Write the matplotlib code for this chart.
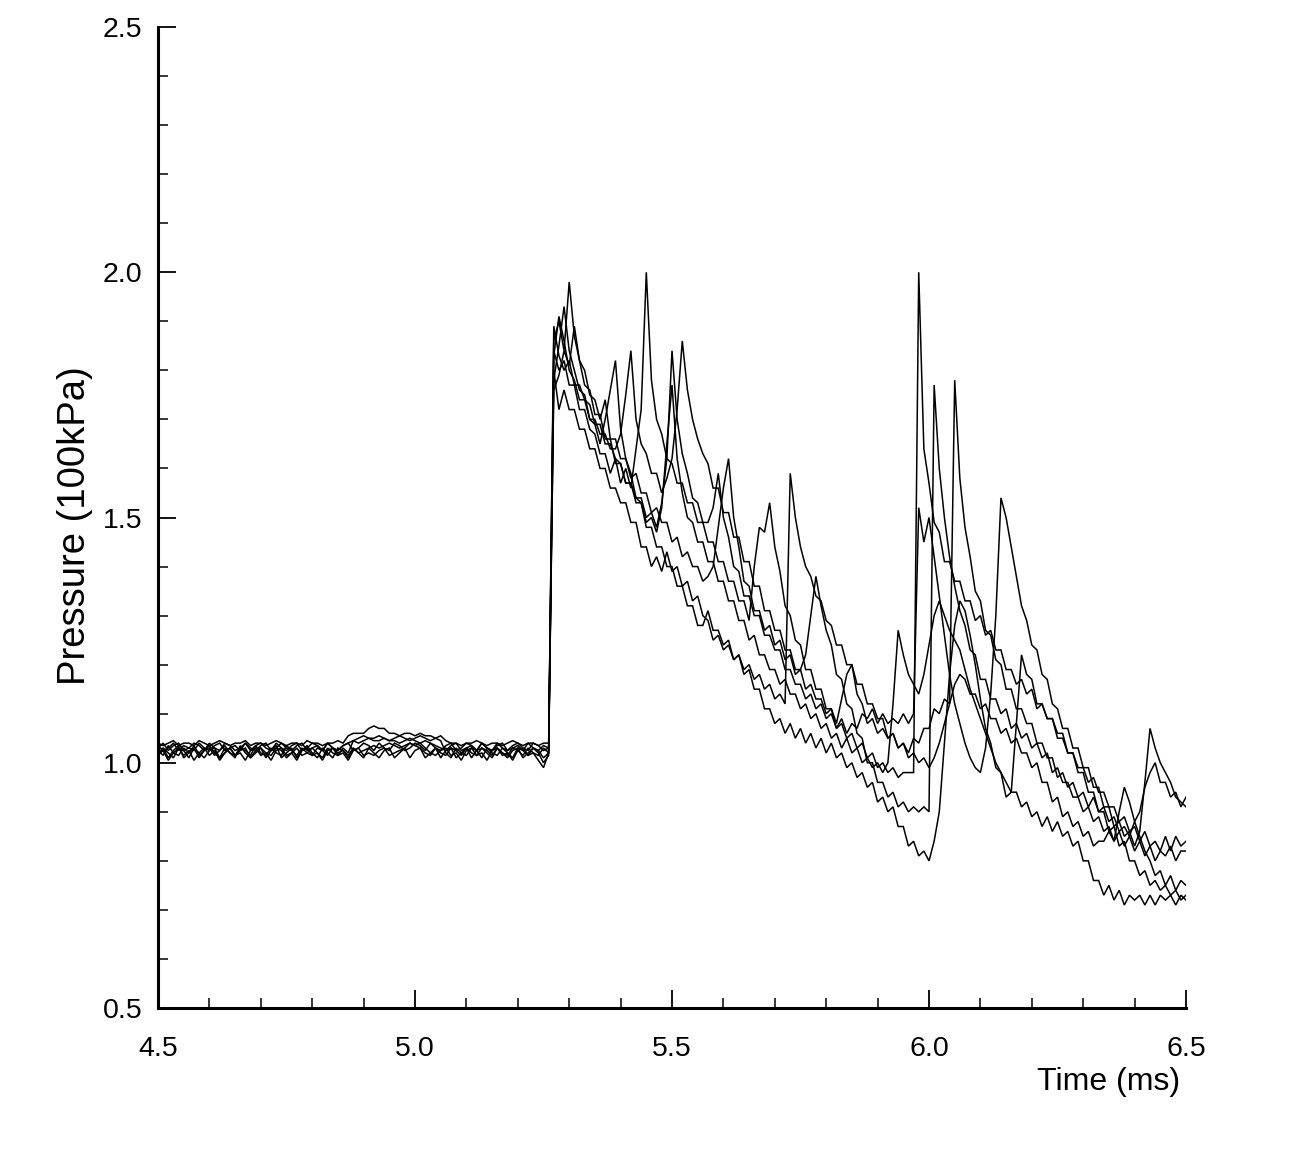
import numpy as np
import matplotlib
matplotlib.use("Agg")
import matplotlib.pyplot as plt
from matplotlib.ticker import MultipleLocator

plt.rcParams['font.family'] = ['Liberation Sans', 'DejaVu Sans']

# ---- data: pressure in kPa, sampled every 0.01 ms from 4.50 to 6.50 ms ----
t_start, t_end, n_samples = 4.50, 6.50, 201

# baseline part (4.50 .. 5.26 ms), 77 samples per gauge
base_1 = [104, 103.5, 104, 104.5, 103.5, 104, 104, 103.5, 104.5, 104, 103.5,
          104, 104.5, 104, 103.5, 104, 104, 104.5, 103.5, 104, 104, 103.5,
          104, 104.5, 104, 103.5, 104, 104, 103.5, 104.5, 104, 104, 103.5,
          104, 104, 104.5, 104, 105.5, 106, 106, 106, 107, 107.5, 107,
          107, 106, 106, 105.5, 106, 106, 105.5, 106, 105.5, 105.5, 105,
          105.5, 104.5, 104, 104, 103.5, 104, 104, 104.5, 104, 103.5, 104,
          104, 103.5, 104, 104.5, 104, 103.5, 104, 104, 103.5, 104, 104]
base_2 = [101.5, 103, 102, 101, 103, 102.5, 101, 103, 102, 101, 102.5,
          103, 101, 102, 103, 101.5, 102.5, 103, 101, 102, 103, 102,
          101.5, 103, 102.5, 101, 102, 103, 101.5, 102, 103, 102, 101,
          103, 102, 101.5, 103, 102, 104.5, 105, 105.5, 105, 105, 105.5,
          105, 104.5, 105, 105.5, 105, 104.5, 105, 105.5, 105, 104.5, 105,
          104.5, 102, 101, 103, 102, 101.5, 103, 102.5, 101, 103, 102,
          101.5, 103, 102, 101, 103, 102.5, 101.5, 103, 102, 100, 101.5]
base_3 = [102.5, 101.5, 103.5, 102, 101.5, 103, 102, 103.5, 101.5, 102.5, 103,
          101.5, 102.5, 103.5, 102, 101.5, 103, 102.5, 101.5, 103.5, 102, 101.5,
          103, 102, 101.5, 103.5, 102.5, 101.5, 103, 102, 101.5, 103, 102.5,
          101.5, 103, 102, 102.5, 101.5, 103, 102, 102.5, 103, 103.5, 103,
          103.5, 104, 103.5, 103, 103.5, 104, 103.5, 103, 102, 101.5, 103,
          102, 101.5, 103, 102.5, 101.5, 103, 102, 101.5, 103, 102.5, 101.5,
          103, 102, 101.5, 103, 102.5, 101.5, 103, 102, 101.5, 103, 102]
base_4 = [103.5, 102.5, 103, 104, 102.5, 103.5, 103, 102.5, 104, 103, 102.5,
          103.5, 104, 102.5, 103, 103.5, 102.5, 104, 103, 102.5, 103.5, 104,
          102.5, 103, 104, 103, 102.5, 103.5, 104, 102.5, 103, 103.5, 102.5,
          104, 103, 102.5, 103.5, 104, 104.5, 104, 104.5, 105, 104.5, 104.5,
          105, 104.5, 104.5, 104, 104.5, 105, 104.5, 104, 104.5, 104, 103.5,
          103, 102.5, 103.5, 104, 102.5, 103, 103.5, 102.5, 104, 103, 102.5,
          103.5, 104, 102.5, 103, 103.5, 102.5, 104, 103, 102.5, 103.5, 103]
base_5 = [102, 103, 101, 102.5, 103.5, 101, 102, 103, 101, 102.5, 103.5,
          102, 101, 103, 102, 101, 103.5, 102, 101, 102.5, 103, 101,
          102.5, 103.5, 101, 102, 103, 101, 102.5, 103.5, 102, 101, 103,
          102, 101, 103, 102.5, 101, 103, 102, 101, 103, 102, 101,
          102.5, 103, 101, 102, 103, 101, 102.5, 103, 101, 102, 103,
          101, 102.5, 103, 101, 102, 103, 101, 102.5, 103, 102, 101,
          103, 102, 101, 102.5, 103, 101, 102, 103, 102.5, 101, 102]
base_6 = [103, 104, 102.5, 103.5, 104, 102.5, 103, 104, 103.5, 102.5, 104,
          103, 102.5, 104, 103.5, 102.5, 103, 104, 102.5, 103.5, 104, 103,
          102.5, 104, 103, 102.5, 103.5, 104, 102.5, 103, 104, 103.5, 102.5,
          104, 103, 102.5, 103.5, 104, 102.5, 103, 104, 103.5, 102.5, 104,
          103, 102.5, 104, 103.5, 102.5, 103, 104, 103.5, 102.5, 104, 103,
          102.5, 103.5, 104, 102.5, 103, 104, 103.5, 102.5, 104, 103, 102.5,
          104, 103, 102.5, 103.5, 104, 103, 102.5, 104, 103.5, 102.5, 103]
base_7 = [101.5, 102.5, 100.5, 102, 103, 101.5, 102.5, 100.5, 102, 103, 101.5,
          102.5, 100.5, 102, 103, 101.5, 102, 100.5, 102.5, 103, 101.5, 102,
          100.5, 102.5, 103, 101.5, 102, 100.5, 102.5, 103, 101.5, 102, 100.5,
          102.5, 103, 101.5, 102, 100.5, 102.5, 103, 101.5, 102, 101.5, 102.5,
          103, 101.5, 102, 102.5, 103, 104, 103.5, 104, 103, 102, 101.5,
          102.5, 103, 101.5, 102, 100.5, 102.5, 103, 101.5, 102, 100.5, 102.5,
          103, 101.5, 102, 100.5, 102.5, 103, 101.5, 102, 100.5, 99, 102]

# post-shock part (5.27 .. 6.50 ms), 124 samples per gauge
post_1 = [186, 190, 184, 198, 187, 182, 180, 175, 174, 170,
          174, 166, 166, 162, 162, 158, 159, 155, 155, 151,
          152, 149, 149, 145, 146, 142, 143, 140, 140, 137,
          138, 140, 148, 156, 162, 150, 144, 137, 136, 131,
          131, 127, 128, 124, 125, 121, 122, 118, 119, 115,
          116, 113, 113, 110, 111, 107, 108, 105, 106, 103,
          104, 101, 102, 99, 100, 98, 99, 97, 98, 98,
          98, 200, 164, 157, 149, 147, 141, 141, 137, 137,
          133, 133, 129, 130, 126, 127, 123, 123, 119, 119,
          116, 117, 114, 115, 111, 112, 109, 109, 105, 105,
          102, 102, 99, 99, 96, 97, 94, 94, 91, 91,
          88, 89, 86, 87, 84, 86, 83, 84, 82, 85,
          82, 85, 83, 84]
post_2 = [184, 180, 182, 177, 177, 172, 172, 168, 167, 163,
          163, 159, 162, 157, 160, 156, 164, 172, 200, 178,
          170, 167, 162, 161, 157, 157, 153, 153, 149, 149,
          145, 145, 141, 141, 137, 137, 133, 133, 129, 140,
          148, 147, 153, 144, 139, 132, 130, 125, 124, 119,
          119, 115, 115, 111, 111, 108, 113, 118, 120, 114,
          112, 108, 109, 106, 107, 105, 106, 103, 104, 102,
          105, 104, 107, 107, 111, 110, 113, 112, 178, 158,
          148, 142, 135, 133, 127, 126, 121, 120, 115, 115,
          111, 111, 108, 108, 104, 104, 101, 101, 97, 98,
          95, 96, 93, 94, 91, 93, 90, 91, 88, 89,
          86, 87, 85, 88, 90, 95, 98, 100, 96, 96,
          93, 94, 91, 93]
post_3 = [180, 172, 176, 172, 172, 168, 168, 164, 164, 160,
          160, 156, 156, 153, 153, 149, 149, 144, 144, 140,
          142, 139, 143, 139, 140, 136, 137, 133, 134, 130,
          129, 125, 126, 123, 124, 121, 122, 118, 119, 115,
          115, 111, 111, 108, 109, 106, 108, 105, 107, 104,
          106, 103, 105, 102, 104, 101, 102, 99, 100, 97,
          98, 95, 96, 92, 93, 90, 91, 87, 87, 83,
          84, 81, 82, 80, 84, 90, 104, 118, 128, 133,
          131, 126, 120, 113, 107, 104, 99, 98, 93, 94,
          108, 122, 118, 117, 112, 112, 109, 109, 106, 106,
          102, 102, 98, 98, 94, 94, 90, 90, 86, 87,
          83, 84, 80, 80, 77, 78, 75, 76, 74, 75,
          73, 74, 72, 73]
post_4 = [189, 183, 180, 182, 177, 177, 174, 173, 169, 169,
          165, 165, 162, 161, 157, 157, 154, 154, 150, 151,
          148, 153, 162, 184, 170, 163, 159, 154, 153, 149,
          149, 152, 159, 150, 146, 140, 139, 134, 134, 130,
          130, 126, 126, 123, 123, 119, 119, 116, 116, 113,
          114, 111, 112, 109, 110, 107, 109, 106, 108, 107,
          110, 109, 111, 108, 110, 108, 109, 108, 110, 108,
          110, 152, 145, 150, 142, 134, 126, 118, 112, 108,
          104, 101, 99, 98, 103, 114, 130, 154, 150, 144,
          138, 132, 129, 124, 123, 118, 117, 112, 111, 107,
          107, 103, 103, 99, 99, 95, 95, 91, 91, 87,
          88, 85, 86, 83, 86, 96, 107, 103, 100, 98,
          96, 93, 92, 91]
post_5 = [178, 185, 193, 184, 180, 176, 175, 170, 169, 165,
          170, 176, 182, 168, 162, 159, 154, 153, 148, 148,
          144, 144, 140, 140, 136, 136, 132, 132, 128, 128,
          131, 127, 127, 124, 125, 121, 122, 119, 120, 117,
          118, 115, 116, 113, 114, 112, 159, 150, 144, 140,
          138, 134, 133, 129, 128, 124, 124, 120, 120, 116,
          116, 112, 112, 109, 109, 105, 106, 103, 104, 101,
          102, 100, 101, 99, 101, 104, 108, 112, 116, 118,
          117, 114, 114, 111, 112, 109, 109, 106, 107, 104,
          105, 102, 102, 99, 100, 96, 96, 92, 93, 89,
          90, 87, 88, 85, 86, 83, 84, 84, 86, 84,
          90, 95, 92, 88, 85, 82, 80, 77, 78, 75,
          77, 74, 76, 75]
post_6 = [183, 191, 186, 180, 178, 174, 174, 170, 170, 167,
          167, 164, 164, 167, 175, 184, 170, 165, 163, 159,
          159, 155, 158, 162, 172, 186, 176, 170, 166, 163,
          161, 156, 156, 151, 151, 146, 146, 141, 141, 136,
          136, 131, 131, 127, 127, 123, 123, 119, 119, 122,
          130, 138, 132, 127, 124, 118, 117, 112, 111, 106,
          105, 100, 100, 96, 96, 93, 94, 91, 92, 90,
          91, 90, 91, 90, 177, 160, 150, 142, 136, 131,
          128, 123, 122, 117, 117, 113, 113, 110, 111, 107,
          108, 105, 106, 103, 104, 101, 102, 98, 99, 96,
          96, 93, 93, 90, 91, 88, 89, 86, 87, 84,
          86, 83, 85, 82, 84, 81, 83, 80, 82, 81,
          83, 80, 82, 82]
post_7 = [176, 179, 184, 181, 189, 182, 177, 176, 171, 171,
          166, 166, 161, 161, 157, 157, 153, 153, 149, 150,
          147, 152, 165, 177, 162, 155, 150, 149, 145, 145,
          141, 141, 137, 137, 133, 133, 129, 129, 125, 126,
          122, 122, 119, 119, 116, 117, 114, 114, 111, 112,
          109, 110, 107, 108, 105, 106, 103, 105, 102, 103,
          100, 101, 99, 100, 98, 100, 112, 127, 122, 118,
          116, 114, 118, 124, 130, 133, 130, 127, 125, 123,
          119, 115, 112, 109, 106, 103, 100, 98, 96, 94,
          94, 91, 92, 89, 90, 87, 89, 86, 88, 85,
          86, 83, 84, 80, 80, 76, 76, 73, 75, 72,
          74, 71, 73, 72, 73, 71, 73, 71, 73, 72,
          73, 71, 73, 72]

gauges = [(base_1, post_1), (base_2, post_2), (base_3, post_3), (base_4, post_4),
          (base_5, post_5), (base_6, post_6), (base_7, post_7)]

x_ticks = [4.5, 5.0, 5.5, 6.0, 6.5]
x_tick_labels = ["4.5", "5.0", "5.5", "6.0", "6.5"]
y_ticks = [0.5, 1.0, 1.5, 2.0, 2.5]
y_tick_labels = ["0.5", "1.0", "1.5", "2.0", "2.5"]

# ---- figure ----
W, H = 1290, 1160
fig = plt.figure(figsize=(W / 100, H / 100), dpi=100)
ax = fig.add_axes([158 / W, 1 - 1008 / H, (1186 - 158) / W, (1008 - 27) / H])

t = np.linspace(t_start, t_end, n_samples)
for base, post in gauges:
    p = np.array(base + post, dtype=float) / 100.0
    ax.plot(t, p, color='black', lw=1.1, solid_joinstyle='miter')

ax.set_xlim(4.5, 6.5)
ax.set_ylim(0.5, 2.5)
for s in ('top', 'right'):
    ax.spines[s].set_visible(False)
for s in ('left', 'bottom'):
    ax.spines[s].set_linewidth(2.2)

ax.set_xticks(x_ticks)
ax.set_xticklabels(x_tick_labels)
ax.set_yticks(y_ticks)
ax.set_yticklabels(y_tick_labels)
ax.xaxis.set_minor_locator(MultipleLocator(0.1))
ax.yaxis.set_minor_locator(MultipleLocator(0.1))
ax.tick_params(which='major', direction='in', length=13, width=1.3, labelsize=20.5)
ax.tick_params(which='minor', direction='in', length=7, width=1.1)
ax.tick_params(axis='y', which='major', pad=11)
ax.tick_params(axis='x', which='major', pad=20)

fig.text(1180 / W, 1 - 1082 / H, 'Time (ms)', ha='right', va='center', fontsize=23)
fig.text(75 / W, 1 - 526 / H, 'Pressure (100kPa)', rotation=90,
         ha='center', va='center', fontsize=27.5)

fig.savefig('out.png', dpi=100, facecolor='white')
